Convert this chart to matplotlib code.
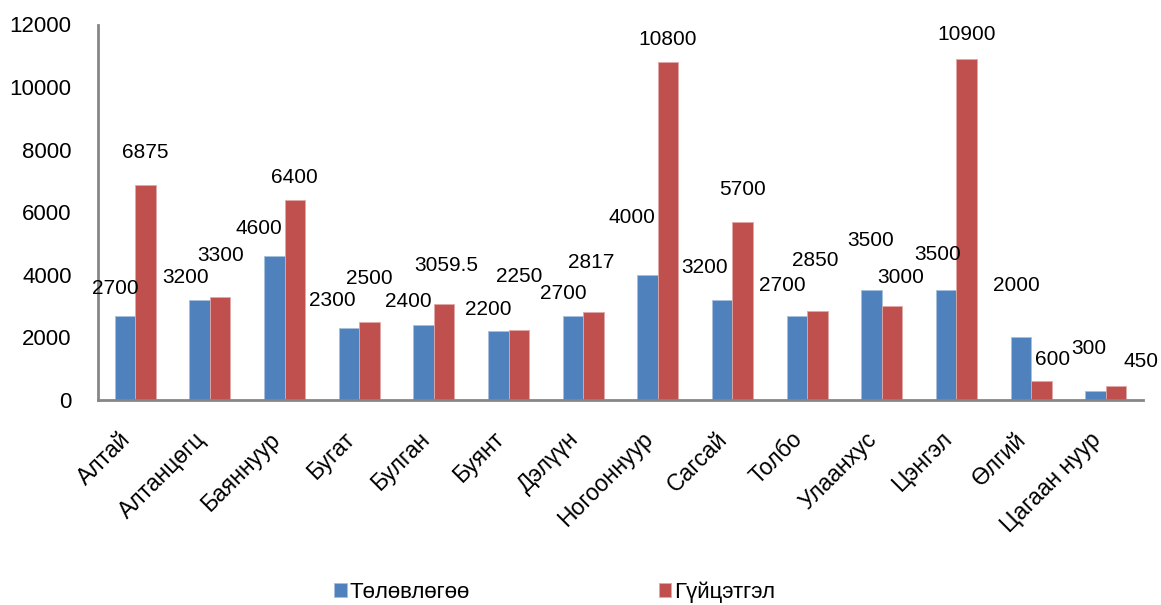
import matplotlib
matplotlib.use('Agg')
import matplotlib.pyplot as plt
import numpy as np

plt.rcParams['font.family'] = ['Liberation Sans', 'DejaVu Sans']

categories = ['Алтай', 'Алтанцөгц', 'Баяннуур', 'Бугат', 'Булган', 'Буянт', 'Дэлүүн',
              'Ногооннуур', 'Сагсай', 'Толбо', 'Улаанхус', 'Цэнгэл', 'Өлгий', 'Цагаан нуур']
plan = [2700, 3200, 4600, 2300, 2400, 2200, 2700, 4000, 3200, 2700, 3500, 3500, 2000, 300]
actual = [6875, 3300, 6400, 2500, 3059.5, 2250, 2817, 10800, 5700, 2850, 3000, 10900, 600, 450]
series_names = ['Төлөвлөгөө', 'Гүйцэтгэл']
yticks = [0, 2000, 4000, 6000, 8000, 10000, 12000]

# label offsets in pixels (dx, dy up) - mimic the hand-placed excel labels
plan_off = [(-10, 27), (-14, 22), (-15, 28), (-17, 28), (-15, 23), (-10, 22), (-10, 22),
            (-16, 57), (-18, 32), (-15, 30), (-1, 50), (-9, 36), (-4, 52), (-7, 42)]
actual_off = [(0, 32), (0, 41), (0, 22), (0, 43), (2, 39), (0, 53), (-2, 49),
              (0, 23), (0, 32), (-2, 50), (9, 29), (0, 24), (11, 22), (25, 24)]

blue = '#4F81BD'
red = '#C0504D'

fig = plt.figure(figsize=(11.61, 6.05), dpi=100)
ax = fig.add_axes([98/1161, 1 - 400/605, 1045/1161, 375.5/605])

x = np.arange(len(categories))
w = 0.275
b1 = ax.bar(x - w/2, plan, w, color=blue, edgecolor='#A7C0DE', linewidth=0.6, label=series_names[0])
b2 = ax.bar(x + w/2, actual, w, color=red, edgecolor='#E0A8A6', linewidth=0.6, label=series_names[1])

for bars, vals, offs in [(b1, plan, plan_off), (b2, actual, actual_off)]:
    for rect, v, (dx, dy) in zip(bars, vals, offs):
        ax.annotate(f'{v:g}', (rect.get_x() + rect.get_width()/2, v),
                    xytext=(dx, dy), textcoords='offset pixels',
                    ha='center', va='center', fontsize=15)

ax.set_xlim(-0.5, len(categories) - 0.5)
ax.set_ylim(0, 12000)
ax.set_yticks(yticks)
ax.tick_params(axis='y', length=0, pad=19, labelsize=16)
ax.tick_params(axis='x', length=0, pad=20)
ax.set_xticks(x)
ax.set_xticklabels(categories, rotation=45, ha='right', va='top', fontsize=16.5)

for s in ['top', 'right']:
    ax.spines[s].set_visible(False)
for s in ['left', 'bottom']:
    ax.spines[s].set_color('#868686')
    ax.spines[s].set_linewidth(2)

fig.legend(handles=[b1, b2], labels=series_names, loc='center',
           bbox_to_anchor=(555/1161, 1 - 592/605), ncol=2, frameon=False,
           fontsize=16, handlelength=0.55, handleheight=0.55, handletextpad=0.15,
           columnspacing=8.5)

fig.savefig('out.png', dpi=100)
